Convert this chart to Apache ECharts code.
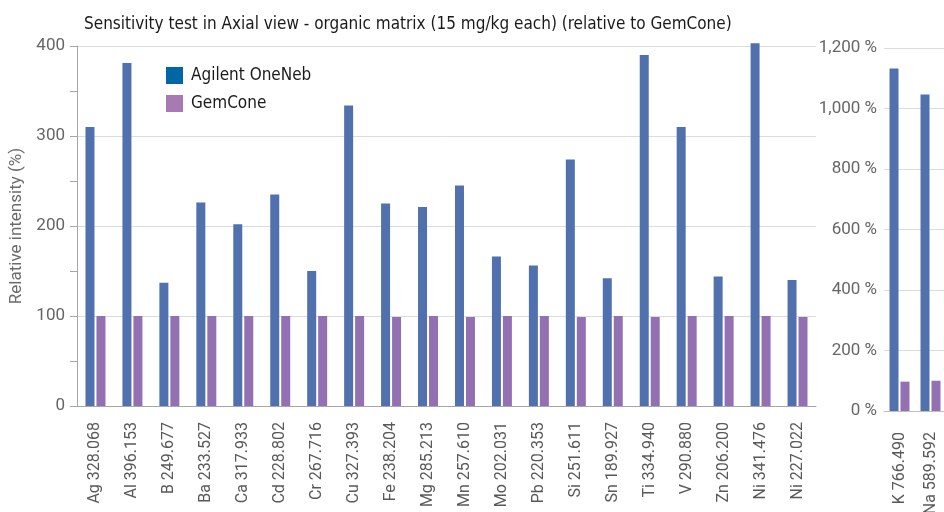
<!DOCTYPE html>
<html>
<head>
<meta charset="utf-8">
<script src="https://cdn.jsdelivr.net/npm/echarts@6/dist/echarts.min.js"></script>
<style>html,body{margin:0;padding:0;background:#fff}#c{width:944px;height:512px}</style>
</head>
<body>
<div id="c"></div>
<script>
var titleText = 'Sensitivity test in Axial view - organic matrix (15 mg/kg each) (relative to GemCone)';
var seriesNames = ['Agilent OneNeb', 'GemCone'];
var leftCategories = ['Ag 328.068','Al 396.153','B 249.677','Ba 233.527','Ca 317.933','Cd 228.802','Cr 267.716','Cu 327.393','Fe 238.204','Mg 285.213','Mn 257.610','Mo 202.031','Pb 220.353','Si 251.611','Sn 189.927','Ti 334.940','V 290.880','Zn 206.200','Ni 341.476','Ni 227.022'];
var leftOneNeb = [310,381,137,226,202,235,150,334,225,221,245,166,156,274,142,390,310,144,403,140];
var leftGemCone = [100,100,100,100,100,100,100,100,99,100,99,100,100,99,100,99,100,100,100,99];
var rightCategories = ['K 766.490','Na 589.592'];
var rightOneNeb = [1132,1046];
var rightGemCone = [97,100];

var FONT = 'Roboto, "Liberation Sans", sans-serif';
var NARROW = '"Liberation Sans Narrow", "DejaVu Sans Condensed", sans-serif';
var blue = '#5171ae', purple = '#9370b2';
var chart = echarts.init(document.getElementById('c'), null, {renderer:'canvas'});
chart.setOption({
  animation:false,
  backgroundColor:'#fff',
  title:{text:titleText,left:79,top:11,textStyle:{fontFamily:NARROW,fontSize:17,fontWeight:'normal',color:'#1a1a1a'}},
  legend:{
    left:161, top:62, orient:'vertical', itemWidth:17, itemHeight:17, itemGap:11,
    icon:'rect',
    textStyle:{fontFamily:NARROW,fontSize:17,color:'#1a1a1a',padding:[0,0,0,3]},
    data:[{name:seriesNames[0],itemStyle:{color:'#0066a6'}},{name:seriesNames[1],itemStyle:{color:'#a77ab3'}}]
  },
  grid:[
    {left:77, top:46, right:128, bottom:106, outerBoundsMode:'none', containLabel:false},
    {left:884, top:48, right:-2, bottom:101, outerBoundsMode:'none', containLabel:false}
  ],
  xAxis:[
    {type:'category', gridIndex:0, data:leftCategories,
     axisLine:{lineStyle:{color:'#a6a6a6'}}, axisTick:{show:false},
     axisLabel:{rotate:90, interval:0, margin:16, fontFamily:FONT, fontSize:16, color:'#595959'}},
    {type:'category', gridIndex:1, data:rightCategories,
     axisLine:{lineStyle:{color:'#bfbfbf'}}, axisTick:{show:false},
     axisLabel:{rotate:90, interval:0, margin:21, fontFamily:FONT, fontSize:16, color:'#595959'}}
  ],
  yAxis:[
    {type:'value', gridIndex:0, min:0, max:400, interval:100,
     name:'Relative intensity (%)', nameLocation:'middle', nameGap:45, nameRotate:90,
     nameTextStyle:{fontFamily:FONT,fontSize:17,color:'#6b6b6b'},
     axisLine:{show:true,lineStyle:{color:'#a6a6a6'}},
     axisTick:{show:true,length:7,lineStyle:{color:'#a6a6a6'}},
     minorTick:{show:true,splitNumber:2,length:7,lineStyle:{color:'#a6a6a6'}},
     minorSplitLine:{show:false},
     splitLine:{lineStyle:{color:'#dcdcdc'}},
     axisLabel:{margin:12, fontFamily:FONT, fontSize:17, color:'#666', padding:[4,0,0,0]}},
    {type:'value', gridIndex:1, min:0, max:1200, interval:200,
     axisLine:{show:false}, axisTick:{show:false},
     splitLine:{lineStyle:{color:'#dcdcdc'}},
     axisLabel:{margin:7, fontFamily:FONT, fontSize:17, color:'#666', padding:[5,0,0,0],
       formatter:function(v){return v.toLocaleString('en-US')+' %';}}}
  ],
  series:[
    {name:seriesNames[0], type:'bar', xAxisIndex:0, yAxisIndex:0, data:leftOneNeb, barWidth:9, barGap:'22%', clip:false, itemStyle:{color:blue}},
    {name:seriesNames[1], type:'bar', xAxisIndex:0, yAxisIndex:0, data:leftGemCone, barWidth:9, barGap:'22%', clip:false, itemStyle:{color:purple}},
    {name:seriesNames[0], type:'bar', xAxisIndex:1, yAxisIndex:1, data:rightOneNeb, barWidth:9, barGap:'22%', itemStyle:{color:blue}},
    {name:seriesNames[1], type:'bar', xAxisIndex:1, yAxisIndex:1, data:rightGemCone, barWidth:9, barGap:'22%', itemStyle:{color:purple}}
  ]
});
</script>
</body>
</html>
